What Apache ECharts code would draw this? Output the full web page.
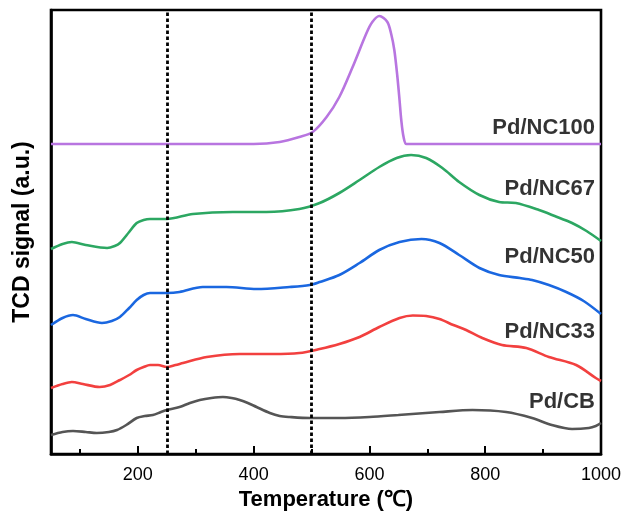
<!DOCTYPE html>
<html>
<head>
<meta charset="utf-8">
<script src="https://cdn.jsdelivr.net/npm/echarts@6/dist/echarts.min.js"></script>
<style>html,body{margin:0;padding:0;background:#fff}#c{width:634px;height:519px}</style>
</head>
<body>
<div id="c"></div>
<script>
// Temperature (°C) and TCD signal (arbitrary offset units) per sample
const tCB  = [50, 70, 88, 110, 129, 150, 164, 180, 198, 212, 226, 240, 250, 272, 290, 307, 327, 347, 362, 376, 390, 405, 428, 445, 462, 497, 548, 600, 650, 721, 778, 836, 881, 915, 950, 979, 991, 1000];
const vCB  = [19, 22, 23, 22, 21, 22, 24, 29, 36, 38, 39, 42, 44, 47, 51, 54, 56, 57, 56, 54, 51, 47, 41, 38, 37, 36, 36, 37, 39, 42, 44, 42, 36, 29, 25, 26, 28, 31];

const tNC33 = [50, 70, 86, 105, 134, 152, 169, 185, 198, 210, 221, 235, 250, 265, 278, 319, 376, 433, 479, 514, 548, 583, 617, 652, 675, 698, 721, 745, 767, 795, 829, 871, 910, 957, 991, 1000];
const vNC33 = [66, 70, 72, 70, 67, 69, 74, 79, 84, 87, 89, 89, 87, 89, 91, 97, 100, 100, 101, 105, 110, 117, 127, 136, 138.5, 138, 135, 129, 124, 116, 109, 106, 97, 89, 76, 73];

const tNC50 = [50, 70, 88, 110, 138, 155, 169, 185, 198, 210, 221, 250, 272, 312, 353, 405, 462, 497, 514, 548, 583, 617, 652, 690, 721, 755, 790, 824, 860, 881, 910, 940, 970, 1000];
const vNC50 = [129, 136, 139, 135, 131, 133, 137, 146, 154, 159, 161, 161, 162, 167, 167, 165, 167, 169, 172, 179, 191, 204, 212, 215, 211, 199, 186, 179, 176, 174, 169, 162, 153, 140];

const tNC67 = [50, 70, 86, 110, 147, 160, 169, 185, 198, 210, 221, 250, 295, 364, 422, 479, 514, 548, 583, 617, 647, 672, 698, 726, 755, 790, 824, 853, 893, 920, 950, 975, 1000];
const vNC67 = [205, 210, 212, 209, 206, 208, 211, 222, 231, 234, 235, 235, 240, 242, 242, 245, 251, 261, 274, 287, 296, 299, 296, 286, 272, 259, 252, 251, 244, 238, 231, 223, 213];

const tNC100 = [50, 400, 445, 479, 502, 526, 548, 571, 595, 605, 617, 631, 638, 643, 648, 652, 655, 659, 664, 700, 1000];
const vNC100 = [310, 310, 312, 317, 322, 337, 357, 387, 421, 432, 438, 432, 419, 404, 379, 354, 334, 317, 310, 310, 310];

const seriesNames  = ['Pd/CB', 'Pd/NC33', 'Pd/NC50', 'Pd/NC67', 'Pd/NC100'];
const labelYValues = [52, 122, 197, 265, 326];
const labelX = 1000;

const majorTicks = [200, 400, 600, 800, 1000];
const minorTicks = [100, 300, 500, 700, 900];
const refLines = [250, 500];

const colors = ['#555555', '#F2403F', '#1A67E0', '#2CA762', '#B875E0'];
const temps = [tCB, tNC33, tNC50, tNC67, tNC100];
const vals  = [vCB, vNC33, vNC50, vNC67, vNC100];

const zip = (a, b) => a.map((x, i) => [x, b[i]]);

const series = seriesNames.map((name, i) => ({
  name: name,
  type: 'line',
  data: zip(temps[i], vals[i]),
  smooth: 0.3,
  symbol: 'none',
  lineStyle: { color: colors[i], width: 2.6 },
  z: 3
}));

series.push({
  type: 'line',
  data: [],
  markLine: {
    silent: true,
    symbol: 'none',
    label: { show: false },
    lineStyle: { color: '#000', width: 2.8, type: [3.5, 2.5] },
    data: refLines.map(v => ({ xAxis: v }))
  }
});

series.push({
  type: 'scatter',
  symbolSize: 0,
  data: seriesNames.map((n, i) => ({ value: [labelX, labelYValues[i]], name: n })),
  label: {
    show: true,
    position: 'left',
    distance: 6,
    formatter: p => p.name,
    color: '#000',
    fontSize: 22,
    fontWeight: 'bold',
    fontFamily: 'Liberation Sans, Arial, sans-serif'
  },
  silent: true,
  z: 5
});

const chart = echarts.init(document.getElementById('c'), null, { renderer: 'canvas' });
chart.setOption({
  animation: false,
  backgroundColor: '#fff',
  grid: { left: 51, right: 33, top: 10, bottom: 65, show: true, borderColor: '#000', borderWidth: 2.6, containLabel: false },
  xAxis: [{
    type: 'value',
    min: 50, max: 1000,
    name: 'Temperature (℃)',
    nameLocation: 'middle',
    nameGap: 31,
    nameTextStyle: { fontSize: 22, fontWeight: 'bold', color: '#000', fontFamily: 'Liberation Sans, Arial, sans-serif' },
    axisLine: { show: true, lineStyle: { color: '#000', width: 2.6 } },
    axisTick: { show: true, inside: true, length: 8, lineStyle: { color: '#000', width: 2 }, customValues: majorTicks },
    axisLabel: { show: true, margin: 12, fontSize: 18, color: '#000', fontFamily: 'Liberation Sans, Arial, sans-serif', customValues: majorTicks, formatter: v => String(v) },
    splitLine: { show: false }
  }, {
    type: 'value',
    min: 50, max: 1000,
    position: 'bottom',
    axisLine: { show: false },
    axisTick: { show: true, inside: true, length: 5, lineStyle: { color: '#000', width: 2 }, customValues: minorTicks },
    axisLabel: { show: false },
    splitLine: { show: false }
  }],
  yAxis: {
    type: 'value',
    min: 0, max: 444,
    name: 'TCD signal (a.u.)',
    nameLocation: 'middle',
    nameGap: 17,
    nameTextStyle: { fontSize: 23, fontWeight: 'bold', color: '#000', fontFamily: 'Liberation Sans, Arial, sans-serif' },
    axisLine: { show: true, lineStyle: { color: '#000', width: 2.6 } },
    axisTick: { show: false },
    axisLabel: { show: false },
    splitLine: { show: false }
  },
  series: series
});
</script>
</body>
</html>
